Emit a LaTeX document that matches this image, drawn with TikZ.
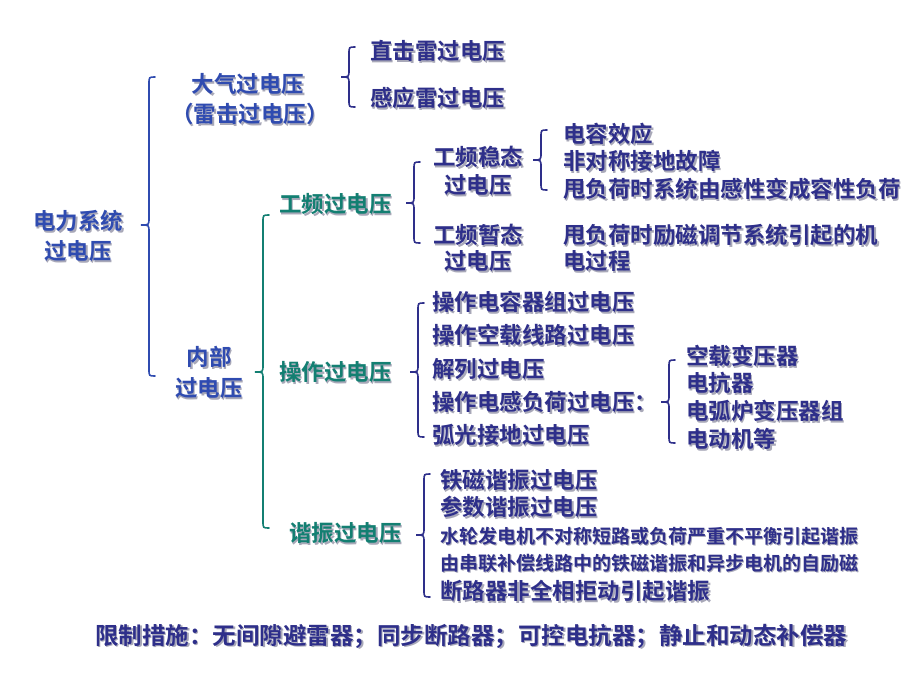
\documentclass[tikz,border=0pt]{standalone}
\usepackage{fontspec}
\setmainfont{Noto Sans CJK SC}[BoldFont={Noto Sans CJK SC Bold}]
\definecolor{nv}{HTML}{2E2F8A}
\definecolor{bl}{HTML}{2F4BB0}
\definecolor{tl}{HTML}{137F72}
\definecolor{sh}{HTML}{A8A8B8}
\newcommand\shd[1]{\makebox[0pt][l]{\raisebox{-1.6pt}{\hspace{1.6pt}\textcolor{sh}{#1}}}#1}
\newcommand\brc[5]{\draw[#1,line width=1.6pt,line cap=round]
 ({#2+6},#3) .. controls (#2,#3) .. (#2,{#3+7}) -- (#2,{#4-7}) .. controls (#2,#4) .. ({#2-8},#4)
 .. controls (#2,#4) .. (#2,{#4+7}) -- (#2,{#5-7}) .. controls (#2,#5) .. ({#2+6},#5);}
\begin{document}
\begin{tikzpicture}[x=1pt,y=-1pt,
 t/.style={inner sep=0pt,font=\bfseries\fontsize{22.5}{24}\selectfont,text=nv},
 tb/.style={t,text=bl},
 tt/.style={t,text=tl},
 s/.style={t,font=\bfseries\fontsize{19}{20}\selectfont}]
\useasboundingbox[fill=white] (0,0) rectangle (920,690);
\node[tb] (a1) at (78,222) {\shd{电力系统}};
\node[tb] (a2) at (78,252) {\shd{过电压}};
\brc{bl}{149}{77}{225}{376}
\node[tb] (b1) at (248,85) {\shd{大气过电压}};
\node[tb] (b2) at (250,115) {\shd{（雷击过电压）}};
\brc{nv}{349}{47}{77}{107}
\node[t,anchor=west] (c1) at (370,52) {\shd{直击雷过电压}};
\node[t,anchor=west] (c2) at (370,99) {\shd{感应雷过电压}};
\node[tb] (d1) at (209,358) {\shd{内部}};
\node[tb] (d2) at (209,389) {\shd{过电压}};
\brc{tl}{263}{215}{372}{528}
\node[tt,anchor=west] (e1) at (279,205) {\shd{工频过电压}};
\node[tt,anchor=west] (e2) at (279,373) {\shd{操作过电压}};
\node[tt,anchor=west] (e3) at (289,534) {\shd{谐振过电压}};
\brc{nv}{414}{162}{203}{243}
\node[t] (f1) at (478,158) {\shd{工频稳态}};
\node[t] (f2) at (478,186) {\shd{过电压}};
\node[t] (f3) at (478,236) {\shd{工频暂态}};
\node[t] (f4) at (478,262) {\shd{过电压}};
\brc{nv}{541}{130}{160}{190}
\node[t,anchor=west] (g1) at (563,135) {\shd{电容效应}};
\node[t,anchor=west] (g2) at (563,162) {\shd{非对称接地故障}};
\node[t,anchor=west] (g3) at (563,190) {\shd{甩负荷时系统由感性变成容性负荷}};
\node[t,anchor=west] (g4) at (563,236) {\shd{甩负荷时励磁调节系统引起的机}};
\node[t,anchor=west] (g5) at (563,262) {\shd{电过程}};
\brc{nv}{418}{303}{372}{437}
\node[t,anchor=west] (h1) at (432,303) {\shd{操作电容器组过电压}};
\node[t,anchor=west] (h2) at (432,336) {\shd{操作空载线路过电压}};
\node[t,anchor=west] (h3) at (432,370) {\shd{解列过电压}};
\node[t,anchor=west] (h4) at (432,403) {\shd{操作电感负荷过电压：}};
\node[t,anchor=west] (h5) at (432,436) {\shd{弧光接地过电压}};
\brc{nv}{669}{360}{402}{443}
\node[t,anchor=west] (i1) at (686,357) {\shd{空载变压器}};
\node[t,anchor=west] (i2) at (686,384) {\shd{电抗器}};
\node[t,anchor=west] (i3) at (686,412) {\shd{电弧炉变压器组}};
\node[t,anchor=west] (i4) at (686,440) {\shd{电动机等}};
\brc{nv}{424}{474}{535}{597}
\node[t,anchor=west] (j1) at (440,481) {\shd{铁磁谐振过电压}};
\node[t,anchor=west] (j2) at (440,508) {\shd{参数谐振过电压}};
\node[s,anchor=west] (j3) at (440,537) {\shd{水轮发电机不对称短路或负荷严重不平衡引起谐振}};
\node[s,anchor=west] (j4) at (440,564) {\shd{由串联补偿线路中的铁磁谐振和异步电机的自励磁}};
\node[t,anchor=west] (j5) at (440,592) {\shd{断路器非全相拒动引起谐振}};
\node[t,anchor=west,font=\bfseries\fontsize{23.5}{25}\selectfont] (k) at (95,637) {\shd{限制措施：无间隙避雷器；同步断路器；可控电抗器；静止和动态补偿器}};
\end{tikzpicture}
\end{document}
